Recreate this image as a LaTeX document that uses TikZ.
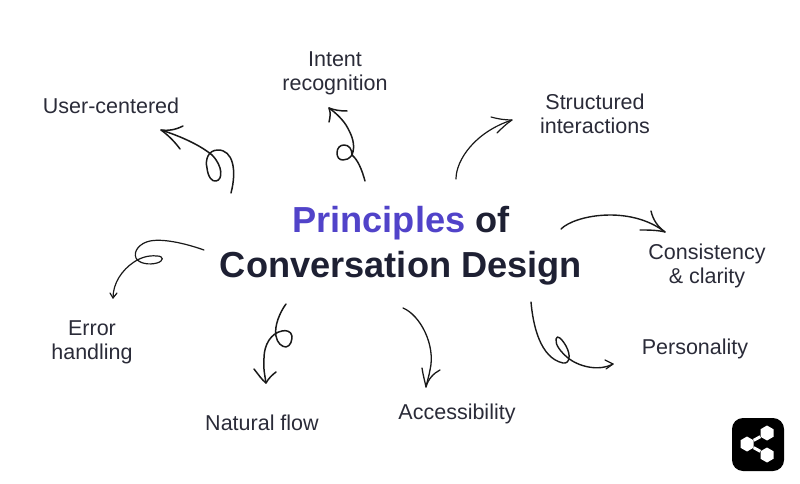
\documentclass[tikz,border=0pt]{standalone}
\usepackage{fontspec}
\setmainfont{Liberation Sans}
\usetikzlibrary{shapes.geometric}
\definecolor{inkdark}{HTML}{1E2033}
\definecolor{inklabel}{HTML}{2A2B38}
\definecolor{inkpurple}{HTML}{5143C9}
\newcommand*{\mylabelstyle}{\fontsize{21.5}{24}\selectfont\color{inklabel}}
\newcommand*{\mytitlestyle}{\fontsize{36.2}{45}\selectfont\bfseries\color{inkdark}}
\tikzset{
  scribble/.style = {draw = black!90, line width = #1, line cap = round, line join = round},
  scribble/.default = 1.4,
  sharehex/.style = {shape = regular polygon, regular polygon sides = 6, shape border rotate = 30,
    fill = white, inner sep = 0pt, minimum size = 15}
}
\begin{document}
\begin{tikzpicture}[x=1pt,y=-1pt]
  \useasboundingbox (0,0) rectangle (800,484);
  \node[align = center, font = \mytitlestyle] (title) at (401,246)
    {\textcolor{inkpurple}{Principles} of\\Conversation Design};
  \foreach \name/\x/\y/\text in {user/111/105.5/User-centered,
      intent/335/73.5/Intent\\recognition,
      structured/595/113.5/Structured\\interactions,
      consistency/707/265.5/Consistency\\\& clarity,
      personality/695/349/Personality,
      access/457/414/Accessibility,
      natural/262/422.5/Natural flow,
      error/92/342/Error\\handling} {
    \node[align = center, font = \mylabelstyle] (\name) at (\x,\y) {\text};
  }
  % free ends of the arrows
  \coordinate (usertail) at (231,193);
  \coordinate (userhead) at (161,130);
  \coordinate (intenttail) at (365,181);
  \coordinate (intenthead) at (329,108);
  \coordinate (structtail) at (456,179);
  \coordinate (structhead) at (512,120);
  \coordinate (constail) at (561,229);
  \coordinate (conshead) at (665,232);
  \coordinate (perstail) at (531,302);
  \coordinate (pershead) at (613,364);
  \coordinate (accesstail) at (403,308);
  \coordinate (accesshead) at (426,387);
  \coordinate (naturaltail) at (286,304);
  \coordinate (naturalhead) at (266,383);
  \coordinate (errortail) at (204,250);
  \coordinate (errorhead) at (113,298);
  % arrows, each with its two barbs
  \draw[scribble=1.5] (usertail) .. controls (237,170) and (233,150) .. (218,150)
    .. controls (208,150) and (205,160) .. (207,168)
    .. controls (208,177) and (212,182) .. (216,181)
    .. controls (223,180) and (223,166) .. (212,155)
    .. controls (200,145) and (180,136) .. (userhead);
  \draw[scribble=1.5] (183,126) .. controls (175,130) and (168,131) .. (userhead)
    .. controls (168,135) and (175,142) .. (180,149);
  \draw[scribble=1.5] (intenttail) .. controls (362,170) and (358,160) .. (352,155)
    .. controls (349,159) and (346,160) .. (343,160)
    .. controls (339,160) and (337,157) .. (337,153)
    .. controls (337,148) and (340,145) .. (344,145)
    .. controls (349,145) and (352,149) .. (352,155)
    .. controls (356,145) and (352,135) .. (346,125)
    .. controls (342,119) and (336,113) .. (intenthead);
  \draw[scribble=1.5] (347,111) .. controls (340,111) and (334,110) .. (intenthead)
    .. controls (331,113) and (330,118) .. (329,122);
  \draw[scribble=1.2] (structtail) .. controls (456,160) and (475,132) .. (structhead);
  \draw[scribble=1.2] (491,117) .. controls (498,119) and (505,120) .. (structhead)
    .. controls (506,124) and (501,129) .. (497,133);
  \draw[scribble=1.4] (constail) .. controls (575,215) and (630,205) .. (conshead);
  \draw[scribble=1.4] (651,211) .. controls (653,220) and (658,227) .. (conshead)
    .. controls (657,230) and (648,230) .. (640,230);
  \draw[scribble=1.4] (perstail) .. controls (533,325) and (540,358) .. (563,363)
    .. controls (570,364) and (571,355) .. (566,346)
    .. controls (562,339) and (557,334) .. (556,339)
    .. controls (555,345) and (561,352) .. (568,358)
    .. controls (578,366) and (598,372) .. (pershead);
  \draw[scribble=1.2] (605,360) -- (pershead) -- (606,369);
  \draw[scribble=1.3] (accesstail) .. controls (420,315) and (436,345) .. (430,370)
    .. controls (429,376) and (427,382) .. (accesshead);
  \draw[scribble=1.3] (422,368) .. controls (423,375) and (425,382) .. (accesshead)
    .. controls (428,379) and (434,373) .. (440,370);
  \draw[scribble=1.5] (naturaltail) .. controls (280,312) and (274,326) .. (276,336)
    .. controls (277,343) and (282,347) .. (286,347)
    .. controls (291,346) and (292,340) .. (292,336)
    .. controls (291,331) and (286,330) .. (282,331)
    .. controls (271,333) and (264,345) .. (264,358)
    .. controls (263,368) and (265,376) .. (naturalhead);
  \draw[scribble=1.5] (254,369) .. controls (258,374) and (262,380) .. (naturalhead)
    .. controls (268,379) and (272,375) .. (276,372);
  \draw[scribble=1.2] (errortail) .. controls (190,245) and (165,238) .. (150,241)
    .. controls (140,243) and (133,251) .. (136,258)
    .. controls (139,264) and (150,265) .. (157,263)
    .. controls (164,261) and (164,256) .. (157,256)
    .. controls (148,255) and (140,258) .. (134,262)
    .. controls (122,270) and (113,283) .. (errorhead);
  \draw[scribble=1.2] (110,293) -- (errorhead) -- (117,293);
  % share badge
  \fill[black, rounded corners = 11] (732,418) rectangle (784,471);
  \node[sharehex] (sharetop) at (767,433) {};
  \node[sharehex] (shareleft) at (747,444) {};
  \node[sharehex] (sharebottom) at (767,455) {};
  \draw[white, line width = 3] (sharetop) -- (shareleft) -- (sharebottom);
\end{tikzpicture}
\end{document}
